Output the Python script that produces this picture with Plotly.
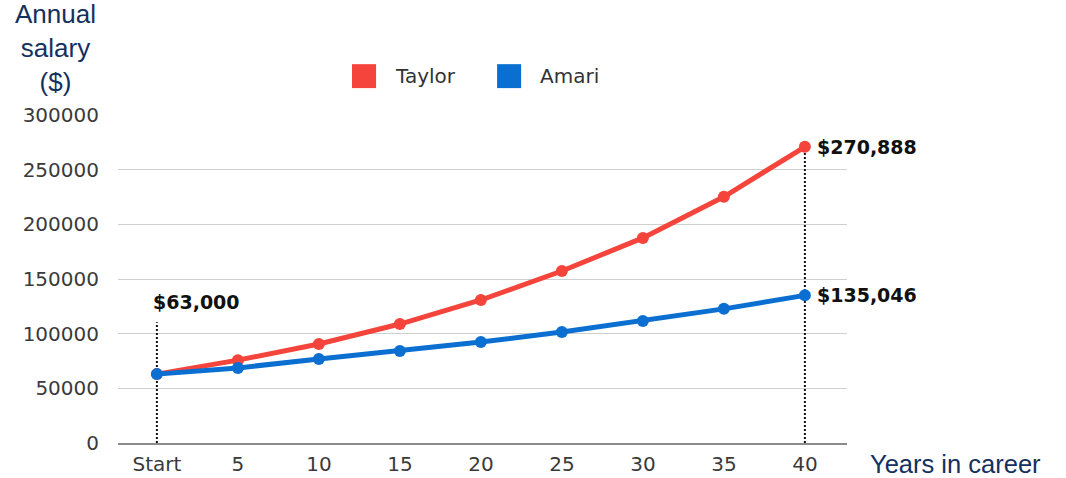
import plotly.graph_objects as go

# Career salary projection, sampled every five years
years = [0, 5, 10, 15, 20, 25, 30, 35, 40]
year_labels = ["Start", "5", "10", "15", "20", "25", "30", "35", "40"]
taylor = [63000, 75800, 90500, 108800, 130800, 157300, 187600, 225200, 270888]
amari = [63000, 68700, 76800, 84100, 92400, 101500, 111600, 122700, 135046]
y_ticks = [0, 50000, 100000, 150000, 200000, 250000, 300000]

series_names = ["Taylor", "Amari"]
series_colors = ["#F5443B", "#0A6FD0"]

# Height of the dotted guide above the starting salary
start_guide_top = 110500

fig = go.Figure()
for name, values, color in zip(series_names, [taylor, amari], series_colors):
    fig.add_trace(go.Scatter(
        x=years, y=values, name=name, mode="lines+markers",
        line=dict(color=color, width=5),
        marker=dict(color=color, size=12),
        showlegend=False, hoverinfo="skip",
    ))

# Dotted guides: starting point and final year
guide = dict(color="#111111", width=2, dash="2px,2px")
fig.add_shape(type="line", x0=years[0], x1=years[0], y0=0, y1=start_guide_top,
              xref="x", yref="y", line=guide, layer="between")
fig.add_shape(type="line", x0=years[-1], x1=years[-1], y0=0, y1=taylor[-1],
              xref="x", yref="y", line=guide, layer="between")

label_font = dict(family="DejaVu Sans", size=19, color="#111111")
fig.add_annotation(x=years[0], y=start_guide_top, xref="x", yref="y",
                   text="<b>$" + f"{taylor[0]:,}" + "</b>", showarrow=False,
                   xanchor="left", yanchor="bottom", xshift=-6, yshift=7, font=label_font)
fig.add_annotation(x=years[-1], y=taylor[-1], xref="x", yref="y",
                   text="<b>$" + f"{taylor[-1]:,}" + "</b>", showarrow=False,
                   xanchor="left", yanchor="middle", xshift=10, font=label_font)
fig.add_annotation(x=years[-1], y=amari[-1], xref="x", yref="y",
                   text="<b>$" + f"{amari[-1]:,}" + "</b>", showarrow=False,
                   xanchor="left", yanchor="middle", xshift=10, font=label_font)

# Legend keys
legend_x = [(0.321, 0.354, 0.377), (0.520, 0.553, 0.576)]
for (x0, x1, tx), name, color in zip(legend_x, series_names, series_colors):
    fig.add_shape(type="rect", xref="paper", yref="paper", x0=x0, x1=x1,
                  y0=1.082, y1=1.155, fillcolor=color, line=dict(width=0))
    fig.add_annotation(xref="paper", yref="paper", x=tx, y=1.119, text=name,
                       showarrow=False, xanchor="left", yanchor="middle",
                       font=dict(family="DejaVu Sans", size=20, color="#333333"))

# Axis titles
title_font = dict(family="Liberation Sans", size=26, color="#14305E")
fig.add_annotation(xref="paper", yref="paper", x=-0.0864, y=1.204,
                   text="Annual<br>salary<br>($)", showarrow=False,
                   xanchor="center", yanchor="middle", font=title_font)
fig.add_annotation(xref="paper", yref="paper", x=1.029, y=-0.063,
                   text="Years in career", showarrow=False,
                   xanchor="left", yanchor="middle",
                   font=dict(family="Liberation Sans", size=25.5, color="#14305E"))

tick_font = dict(family="DejaVu Sans", size=20, color="#3A3A3A")
fig.update_xaxes(
    range=[-2.4, 42.6], tickvals=years, ticktext=year_labels,
    showgrid=False, zeroline=False, showline=True, linecolor="#8C8C8C", linewidth=1.5,
    ticks="outside", ticklen=2, tickcolor="rgba(0,0,0,0)", tickfont=tick_font,
    automargin=False, fixedrange=True,
)
fig.update_yaxes(
    range=[0, 300000], tickvals=y_ticks, tickformat="d",
    showgrid=True, gridcolor="#CFCFCF", gridwidth=1.2, zeroline=False, showline=False,
    ticks="outside", ticklen=14, tickcolor="rgba(0,0,0,0)", tickfont=tick_font,
    automargin=False, fixedrange=True,
)

fig.update_layout(
    width=1066, height=478,
    margin=dict(l=118, r=219, t=115, b=35),
    paper_bgcolor="white", plot_bgcolor="white",
    showlegend=False,
)

fig.write_html("out.html")
